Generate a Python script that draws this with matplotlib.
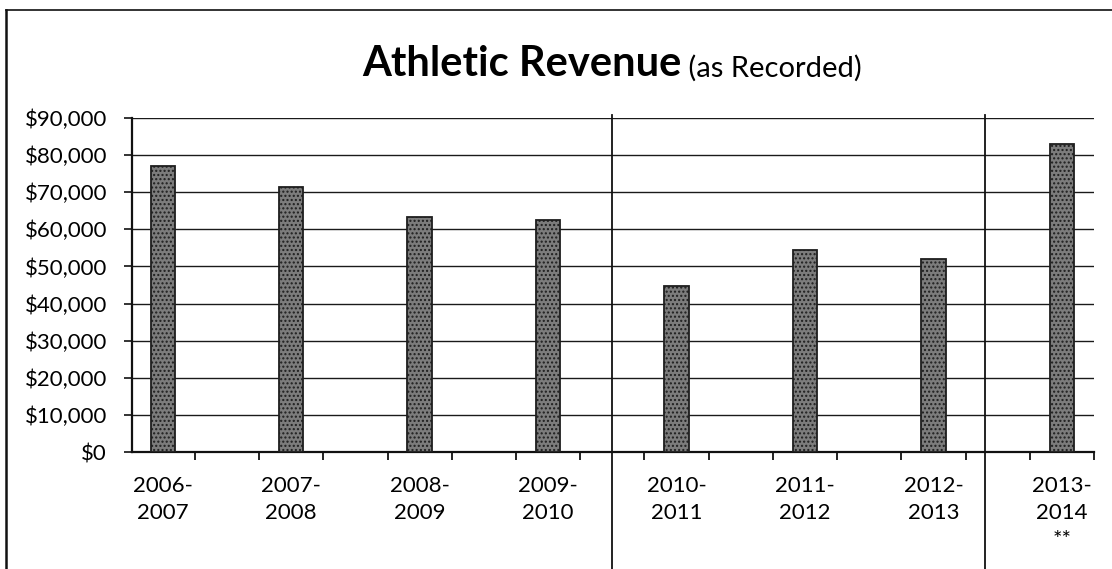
import numpy as np
import matplotlib
matplotlib.use("Agg")
import matplotlib.pyplot as plt
from matplotlib.lines import Line2D
from matplotlib.ticker import FuncFormatter, MultipleLocator

# Data
seasons = ["2006-\n2007", "2007-\n2008", "2008-\n2009", "2009-\n2010",
           "2010-\n2011", "2011-\n2012", "2012-\n2013", "2013-\n2014\n**"]
revenue = [77100, 71300, 63300, 62500, 44800, 54500, 52100, 82900]
# hand drawn separators between season groups (in category units)
separators = [3.5, 6.4]

plt.rcParams["font.family"] = ["Lato", "DejaVu Sans"]

fig = plt.figure(figsize=(11.12, 5.69), dpi=100)
ax = fig.add_axes([0.1187, 0.2056, 0.8651, 0.587])

x = np.arange(len(seasons))
ax.bar(x, revenue, width=0.19, color="#7c7c7c", edgecolor="#1e1e1e",
       linewidth=1.3, hatch="....", zorder=3)

ax.set_ylim(0, 90000)
ax.set_xlim(-0.24, 7.25)
ax.yaxis.set_major_locator(MultipleLocator(10000))
ax.yaxis.set_major_formatter(FuncFormatter(lambda v, p: f"${v:,.0f}"))
ax.grid(axis="y", color="#1a1a1a", linewidth=1.0, zorder=0)
ax.set_axisbelow(True)

ax.set_xticks(x)
ax.set_xticklabels(seasons, linespacing=1.45)
ax.set_xticks(np.arange(0.25, 7.3, 0.5), minor=True)
ax.tick_params(axis="x", which="major", length=0, pad=17, labelsize=16)
ax.tick_params(axis="x", which="minor", length=6, width=1.3, direction="out",
               color="#111111")
ax.tick_params(axis="y", length=6, width=1.2, pad=12, labelsize=16,
               color="#111111")

for side in ("top", "right"):
    ax.spines[side].set_visible(False)
for side in ("left", "bottom"):
    ax.spines[side].set_linewidth(1.6)
    ax.spines[side].set_color("#111111")

for sx in separators:
    ax.axvline(sx, ymin=-0.36, ymax=1.01, color="#111111", linewidth=1.3,
               clip_on=False, zorder=4)

# title: bold part + smaller note
ax.text(0.571, 1.125, "Athletic Revenue", transform=ax.transAxes, ha="right",
        va="baseline", fontsize=30, fontweight="bold")
ax.text(0.571, 1.125, " (as Recorded)", transform=ax.transAxes, ha="left",
        va="baseline", fontsize=21)

# frame of the scanned page
fig.add_artist(Line2D([0.005, 0.005], [0.0, 0.982], transform=fig.transFigure,
                      color="#111111", linewidth=1.8))
fig.add_artist(Line2D([0.005, 1.0], [0.982, 0.982], transform=fig.transFigure,
                      color="#111111", linewidth=1.2))

fig.savefig("out.png", dpi=100)
